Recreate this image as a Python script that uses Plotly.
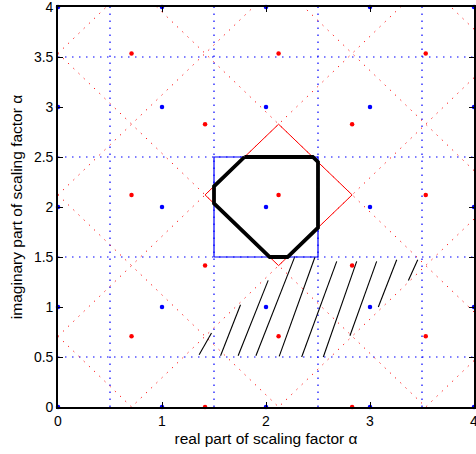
import plotly.graph_objects as go

# Integer lattice (blue) and the rotated lattice (red)
blue_ticks = [0, 1, 2, 3, 4]
red_x = [1.414, 2.828, 0.707, 2.121, 3.536, 1.414, 2.828, 0.707, 2.121, 3.536,
         1.414, 2.828, 0.707, 2.121, 3.536]
red_y = [0.0, 0.0, 0.707, 0.707, 0.707, 1.414, 1.414, 2.121, 2.121, 2.121,
         2.828, 2.828, 3.536, 3.536, 3.536]

# Voronoi cell boundaries: blue cells at half-integers, red cells on diagonals
cell_edges = [0.5, 1.5, 2.5, 3.5]
diag_sum = [0.707, 2.121, 3.536, 4.950, 6.364, 7.778]     # x + y = c
diag_diff = [-3.536, -2.121, -0.707, 0.707, 2.121, 3.536]  # x - y = c

# Highlighted cells around alpha = 2 + 2i
square_x = [1.5, 2.5, 2.5, 1.5, 1.5]
square_y = [1.5, 1.5, 2.5, 2.5, 1.5]
diamond_x = [1.414, 2.121, 2.828, 2.121, 1.414]
diamond_y = [2.121, 2.828, 2.121, 1.414, 2.121]
region_x = [1.793, 2.45, 2.5, 2.5, 2.207, 2.036, 1.5, 1.5, 1.793]
region_y = [2.5, 2.5, 2.45, 1.793, 1.5, 1.5, 2.036, 2.207, 2.5]

# Hatched strip (segment start / end points)
hatch_x0 = [1.357, 1.563, 1.732, 1.903, 2.127, 2.343, 2.551, 2.807, 3.080, 3.369]
hatch_y0 = [0.523, 0.513, 0.513, 0.513, 0.506, 0.500, 0.500, 0.713, 1.000, 1.266]
hatch_x1 = [1.476, 1.755, 2.021, 2.278, 2.471, 2.680, 2.872, 3.064, 3.257, 3.459]
hatch_y1 = [0.740, 1.023, 1.266, 1.506, 1.500, 1.456, 1.456, 1.456, 1.473, 1.473]

y_ticks = [0, 0.5, 1, 1.5, 2, 2.5, 3, 3.5, 4]

fig = go.Figure()

# blue dotted cell edges
bx, by = [], []
for c in cell_edges:
    bx += [c, c, None, 0, 4, None]
    by += [0, 4, None, c, c, None]
fig.add_trace(go.Scatter(x=bx, y=by, mode="lines",
                         line=dict(color="#0000ff", width=1.2, dash="1.5px,5.5px"),
                         hoverinfo="skip"))

# red dotted diagonal cell edges (long lines, clipped by the axes)
rx, ry = [], []
for c in diag_sum:
    rx += [-1, 9, None]
    ry += [c + 1, c - 9, None]
for c in diag_diff:
    rx += [-1, 9, None]
    ry += [-1 - c, 9 - c, None]
fig.add_trace(go.Scatter(x=rx, y=ry, mode="lines",
                         line=dict(color="#ff0000", width=1, dash="1.2px,6px"),
                         hoverinfo="skip"))

# hatching
hx, hy = [], []
for x0, y0, x1, y1 in zip(hatch_x0, hatch_y0, hatch_x1, hatch_y1):
    hx += [x0, x1, None]
    hy += [y0, y1, None]
fig.add_trace(go.Scatter(x=hx, y=hy, mode="lines",
                         line=dict(color="black", width=1.1), hoverinfo="skip"))

fig.add_trace(go.Scatter(x=square_x, y=square_y, mode="lines",
                         line=dict(color="#0000ff", width=1.2)))
fig.add_trace(go.Scatter(x=diamond_x, y=diamond_y, mode="lines",
                         line=dict(color="#ff0000", width=1)))
fig.add_trace(go.Scatter(x=region_x, y=region_y, mode="lines",
                         line=dict(color="black", width=3.8)))

# lattice points
fig.add_trace(go.Scatter(x=red_x, y=red_y, mode="markers", cliponaxis=False,
                         marker=dict(color="#ff0000", size=4.5, line=dict(width=0))))
blue_x = [a for a in blue_ticks for b in blue_ticks]
blue_y = [b for a in blue_ticks for b in blue_ticks]
fig.add_trace(go.Scatter(x=blue_x, y=blue_y, mode="markers", cliponaxis=False,
                         marker=dict(color="#0000ff", size=4.5, line=dict(width=0))))

axis_common = dict(showgrid=False, zeroline=False, showline=True, mirror="ticks",
                   linecolor="black", linewidth=1.6, ticks="inside", ticklen=5,
                   tickcolor="black", tickwidth=1, automargin=False,
                   ticklabeloverflow="allow",
                   tickfont=dict(size=14, color="black"))

fig.update_layout(
    width=476, height=454,
    margin=dict(l=58, r=2, t=7, b=47),
    paper_bgcolor="white", plot_bgcolor="white",
    showlegend=False,
    font=dict(family="Liberation Sans, Arial, sans-serif", size=14, color="black"),
    xaxis=dict(range=[0, 4], tickvals=blue_ticks, **axis_common,
               title=dict(text="real part of scaling factor α",
                          font=dict(size=15.5), standoff=6)),
    yaxis=dict(range=[0, 4], tickvals=y_ticks, **axis_common,
               title=dict(text="imaginary part of scaling factor α",
                          font=dict(size=15.5), standoff=8)),
)

fig.write_html("out.html")
